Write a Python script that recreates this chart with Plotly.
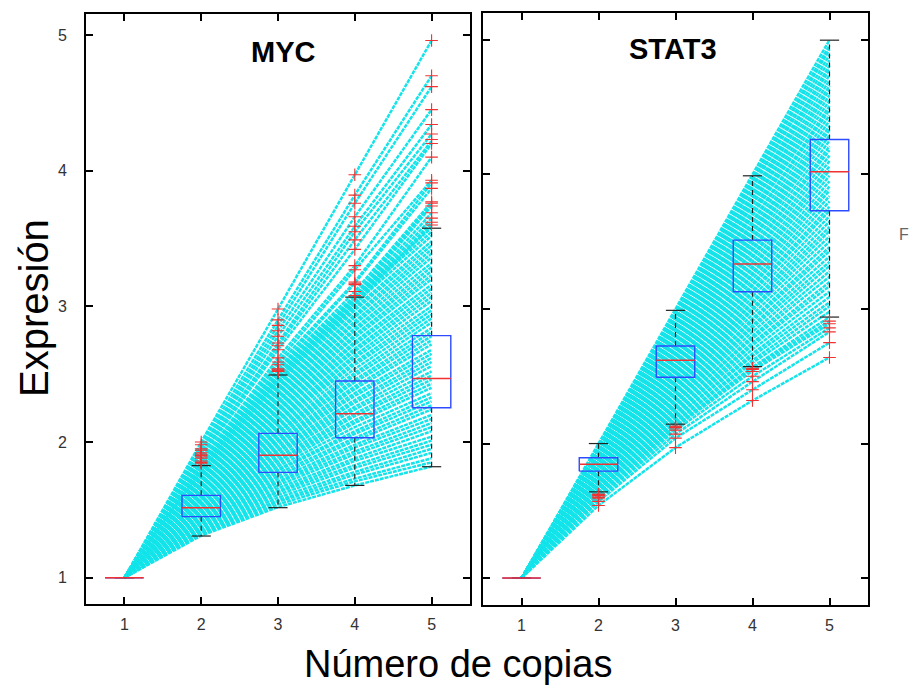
import plotly.graph_objects as go

W, H = 916, 698

# ---------------- data ----------------
copies = [1, 2, 3, 4, 5]
BASE = 1.0  # expression at 1 copy (normalised)

# MYC: expression of each simulated line at 2, 3, 4 and 5 copies
myc_c2 = [1.31,1.32,1.33,1.34,1.35,1.36,1.37,1.38,1.39,1.40,1.41,1.41,1.42,1.43,1.44,1.45,1.46,1.47,1.48,1.49,
          1.50,1.51,1.52,1.53,1.54,1.55,1.56,1.57,1.58,1.58,1.59,1.60,1.61,1.62,1.63,1.64,1.65,1.66,1.67,1.68,
          1.69,1.70,1.71,1.72,1.73,1.74,1.75,1.75,1.76,1.77,1.78,1.79,1.80,1.81,1.82,1.83,
          1.77,1.78,1.79,1.80,1.81,1.82,1.82,1.83,1.84,1.85,1.86,1.88,1.90,1.90,1.92,1.94,1.95,1.98,2.00]
myc_c3 = [1.52,1.54,1.56,1.57,1.59,1.61,1.63,1.64,1.66,1.68,1.70,1.71,1.73,1.75,1.77,1.79,1.80,1.82,1.84,1.86,
          1.87,1.89,1.91,1.93,1.94,1.96,1.98,2.00,2.01,2.03,2.05,2.07,2.08,2.10,2.12,2.14,2.16,2.17,2.19,2.21,
          2.23,2.24,2.26,2.28,2.30,2.31,2.33,2.35,2.37,2.38,2.40,2.42,2.44,2.46,2.47,2.49,
          2.44,2.45,2.47,2.48,2.50,2.52,2.53,2.54,2.57,2.59,2.62,2.68,2.71,2.73,2.78,2.82,2.86,2.90,2.98]
myc_c4 = [1.68,1.71,1.73,1.76,1.78,1.81,1.83,1.86,1.88,1.91,1.93,1.96,1.98,2.01,2.03,2.06,2.08,2.11,2.14,2.16,
          2.19,2.21,2.24,2.26,2.29,2.31,2.34,2.36,2.39,2.41,2.44,2.46,2.49,2.51,2.54,2.57,2.59,2.62,2.64,2.67,
          2.69,2.72,2.74,2.77,2.79,2.82,2.84,2.87,2.89,2.92,2.94,2.97,2.99,3.02,3.05,3.07,
          3.01,3.02,3.04,3.05,3.06,3.08,3.11,3.17,3.18,3.27,3.30,3.42,3.49,3.55,3.59,3.66,3.76,3.82,3.97]
myc_c5 = [1.82,1.85,1.88,1.92,1.95,1.98,2.01,2.04,2.08,2.11,2.14,2.17,2.20,2.24,2.27,2.30,2.33,2.36,2.40,2.43,
          2.46,2.49,2.52,2.56,2.59,2.62,2.65,2.68,2.72,2.75,2.78,2.81,2.84,2.88,2.91,2.94,2.97,3.00,3.04,3.07,
          3.10,3.13,3.16,3.20,3.23,3.26,3.29,3.32,3.36,3.39,3.42,3.45,3.48,3.52,3.55,3.58,
          3.60,3.62,3.65,3.69,3.74,3.76,3.77,3.87,3.91,3.93,4.10,4.20,4.22,4.27,4.34,4.45,4.62,4.70,4.96]

# STAT3
stat3_c2 = [1.64,1.65,1.65,1.66,1.67,1.67,1.68,1.69,1.69,1.70,1.71,1.71,1.72,1.73,1.73,1.74,1.75,1.75,1.76,1.76,
            1.77,1.78,1.78,1.79,1.80,1.80,1.81,1.82,1.82,1.83,1.84,1.84,1.85,1.86,1.86,1.87,1.88,1.88,1.89,1.90,
            1.90,1.91,1.92,1.92,1.93,1.94,1.94,1.95,1.95,1.96,1.97,1.97,1.98,1.99,1.99,2.00,
            1.54,1.57,1.59,1.60,1.62,1.62]
stat3_c3 = [2.14,2.16,2.17,2.19,2.20,2.22,2.23,2.25,2.27,2.28,2.30,2.31,2.33,2.34,2.36,2.38,2.39,2.41,2.42,2.44,
            2.45,2.47,2.48,2.50,2.52,2.53,2.55,2.56,2.58,2.59,2.61,2.63,2.64,2.66,2.67,2.69,2.70,2.72,2.73,2.75,
            2.77,2.78,2.80,2.81,2.83,2.84,2.86,2.88,2.89,2.91,2.92,2.94,2.95,2.97,2.98,3.00,
            1.97,2.04,2.07,2.10,2.12,2.13]
stat3_c4 = [2.57,2.60,2.62,2.65,2.67,2.70,2.73,2.75,2.78,2.80,2.83,2.86,2.88,2.91,2.93,2.96,2.99,3.01,3.04,3.06,
            3.09,3.12,3.14,3.17,3.19,3.22,3.25,3.27,3.30,3.32,3.35,3.38,3.40,3.43,3.45,3.48,3.51,3.53,3.56,3.58,
            3.61,3.64,3.66,3.69,3.71,3.74,3.77,3.79,3.82,3.84,3.87,3.90,3.92,3.95,3.97,4.00,
            2.32,2.40,2.46,2.50,2.54,2.56]
stat3_c5 = [2.94,2.98,3.02,3.05,3.09,3.13,3.17,3.20,3.24,3.28,3.32,3.35,3.39,3.43,3.46,3.50,3.54,3.58,3.61,3.65,
            3.69,3.73,3.76,3.80,3.84,3.88,3.91,3.95,3.99,4.03,4.06,4.10,4.14,4.18,4.21,4.25,4.29,4.33,4.36,4.40,
            4.44,4.48,4.51,4.55,4.59,4.63,4.66,4.70,4.74,4.78,4.81,4.85,4.89,4.93,4.96,5.00,
            2.64,2.75,2.83,2.86,2.89,2.91]

# box-plot statistics per copy number
myc_q1  = [1.0, 1.450, 1.776, 2.032, 2.253]
myc_med = [1.0, 1.516, 1.902, 2.209, 2.469]
myc_q3  = [1.0, 1.607, 2.064, 2.450, 2.784]
myc_wlo = [1.0, 1.307, 1.516, 1.680, 1.818]
myc_whi = [1.0, 1.826, 2.494, 3.068, 3.576]

stat3_q1  = [1.0, 1.795, 2.493, 3.128, 3.730]
stat3_med = [1.0, 1.847, 2.619, 3.334, 4.020]
stat3_q3  = [1.0, 1.894, 2.725, 3.512, 4.260]
stat3_wlo = [1.0, 1.641, 2.144, 2.572, 2.940]
stat3_whi = [1.0, 2.000, 2.990, 3.990, 4.998]

# outliers (copy number, value)
myc_out_x = [2]*12 + [3]*16 + [4]*15 + [5]*19
myc_out_y = [2.00,1.98,1.95,1.94,1.92,1.91,1.90,1.89,1.88,1.86,1.85,1.84,
             2.98,2.90,2.86,2.82,2.78,2.73,2.71,2.68,2.62,2.59,2.57,2.54,2.53,2.53,2.52,2.52,
             3.97,3.82,3.76,3.66,3.59,3.55,3.49,3.42,3.30,3.27,3.18,3.17,3.16,3.11,3.08,
             4.96,4.70,4.62,4.45,4.34,4.27,4.23,4.20,4.10,3.93,3.91,3.87,3.77,3.76,3.74,3.69,3.65,3.62,3.60]
stat3_out_x = [2]*8 + [3]*8 + [4]*8 + [5]*6
stat3_out_y = [1.625,1.62,1.615,1.61,1.60,1.59,1.57,1.54,
               2.13,2.125,2.12,2.115,2.10,2.07,2.04,1.97,
               2.56,2.555,2.55,2.535,2.50,2.46,2.40,2.32,
               2.91,2.89,2.86,2.83,2.75,2.64]

genes = ["MYC", "STAT3"]
x_label = "Número de copias"
y_label = "Expresión"

# ---------------- style ----------------
FONT = "Liberation Sans, Arial, Helvetica, sans-serif"
CYAN = "rgb(20,228,234)"
BLUE = "rgb(45,75,255)"
RED = "rgb(240,50,50)"
BOXW = 0.25   # half box width
CAPW = 0.125  # half whisker-cap width

fig = go.Figure()


def add_gene(c2, c3, c4, c5, q1, med, q3, wlo, whi, ox, oy, xa, ya):
    # fan of dotted lines
    lx, ly = [], []
    for vals in zip(c2, c3, c4, c5):
        lx += copies + [None]
        ly += [BASE, *vals, None]
    fig.add_trace(go.Scatter(x=lx, y=ly, mode="lines", xaxis=xa, yaxis=ya,
                             line=dict(color=CYAN, width=2.5, dash="4px,1px"),
                             hoverinfo="skip", showlegend=False))
    # whiskers (dashed)
    wx, wy = [], []
    for p, a, b, c, d in zip(copies, q1, q3, wlo, whi):
        wx += [p, p, None, p, p, None]
        wy += [b, d, None, a, c, None]
    fig.add_trace(go.Scatter(x=wx, y=wy, mode="lines", xaxis=xa, yaxis=ya,
                             line=dict(color="#222", width=1.2, dash="5px,4px"),
                             hoverinfo="skip", showlegend=False))
    # caps
    cx, cy = [], []
    for p, c, d in zip(copies, wlo, whi):
        cx += [p - CAPW, p + CAPW, None, p - CAPW, p + CAPW, None]
        cy += [d, d, None, c, c, None]
    fig.add_trace(go.Scatter(x=cx, y=cy, mode="lines", xaxis=xa, yaxis=ya,
                             line=dict(color="#222", width=1.2),
                             hoverinfo="skip", showlegend=False))
    # boxes
    bx, by = [], []
    for p, a, b in zip(copies, q1, q3):
        bx += [p - BOXW, p + BOXW, p + BOXW, p - BOXW, p - BOXW, None]
        by += [a, a, b, b, a, None]
    fig.add_trace(go.Scatter(x=bx, y=by, mode="lines", xaxis=xa, yaxis=ya,
                             line=dict(color=BLUE, width=1.4),
                             hoverinfo="skip", showlegend=False))
    # medians
    mx, my = [], []
    for p, m in zip(copies, med):
        mx += [p - BOXW, p + BOXW, None]
        my += [m, m, None]
    fig.add_trace(go.Scatter(x=mx, y=my, mode="lines", xaxis=xa, yaxis=ya,
                             line=dict(color=RED, width=1.5),
                             hoverinfo="skip", showlegend=False))
    # outliers
    fig.add_trace(go.Scatter(x=ox, y=oy, mode="markers", xaxis=xa, yaxis=ya,
                             marker=dict(symbol="cross-thin", size=9,
                                         line=dict(color=RED, width=1.1)),
                             hoverinfo="skip", showlegend=False))


add_gene(myc_c2, myc_c3, myc_c4, myc_c5, myc_q1, myc_med, myc_q3, myc_wlo, myc_whi,
         myc_out_x, myc_out_y, "x", "y")
add_gene(stat3_c2, stat3_c3, stat3_c4, stat3_c5, stat3_q1, stat3_med, stat3_q3, stat3_wlo, stat3_whi,
         stat3_out_x, stat3_out_y, "x2", "y2")


def px(v):
    return v / W


def py(v):
    return 1 - v / H


axis_common = dict(showline=True, linecolor="black", linewidth=2, mirror="ticks",
                   ticks="inside", ticklen=7, tickwidth=1.6, tickcolor="black",
                   showgrid=False, zeroline=False,
                   tickfont=dict(family=FONT, size=16, color="#333"))

fig.update_layout(
    width=W, height=H,
    margin=dict(l=0, r=0, t=0, b=0),
    paper_bgcolor="white", plot_bgcolor="white",
    showlegend=False,
    xaxis=dict(domain=[px(86), px(470)], range=[0.5, 5.5], tickvals=copies,
               ticklabelstandoff=5, anchor="y", **axis_common),
    yaxis=dict(domain=[py(604), py(14)], range=[0.806, 5.155], tickvals=[1, 2, 3, 4, 5],
               ticklabelstandoff=14, anchor="x", **axis_common),
    xaxis2=dict(domain=[px(483), px(868)], range=[0.5, 5.5], tickvals=copies,
                ticklabelstandoff=5, anchor="y2", **axis_common),
    yaxis2=dict(domain=[py(605), py(13)], range=[0.8, 5.2], tickvals=[1, 2, 3, 4, 5],
                showticklabels=False, anchor="x2", **axis_common),
)

ann = [
    dict(text="<b>" + genes[0] + "</b>", x=px(283.5), y=py(52)),
    dict(text="<b>" + genes[1] + "</b>", x=px(672.5), y=py(49)),
]
for a in ann:
    fig.add_annotation(xref="paper", yref="paper", x=a["x"], y=a["y"], text=a["text"],
                       showarrow=False, xanchor="center", yanchor="middle",
                       font=dict(family=FONT, size=29, color="black"))

fig.add_annotation(xref="paper", yref="paper", x=px(458), y=py(664), text=x_label,
                   showarrow=False, xanchor="center", yanchor="middle",
                   font=dict(family=FONT, size=38, color="black"))
fig.add_annotation(xref="paper", yref="paper", x=px(34), y=py(308), text=y_label,
                   textangle=-90, showarrow=False, xanchor="center", yanchor="middle",
                   font=dict(family=FONT, size=40, color="black"))
fig.add_annotation(xref="paper", yref="paper", x=px(897), y=py(234), text="F",
                   showarrow=False, xanchor="left", yanchor="middle",
                   font=dict(family=FONT, size=16, color="#666"))

fig.write_html("out.html")
